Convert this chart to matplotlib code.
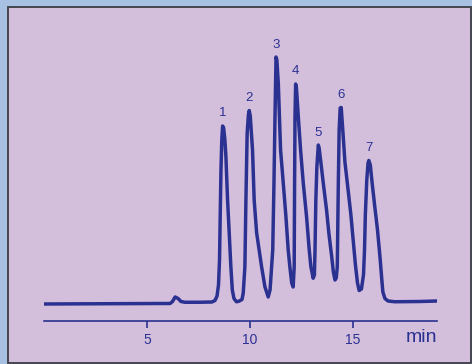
import matplotlib
matplotlib.use("Agg")
import matplotlib.pyplot as plt
from matplotlib.patches import Rectangle

# chromatogram trace (time in min, signal in arbitrary units)
time_min = [0.00, 2.72, 5.63, 6.12, 6.24, 6.37, 6.51, 6.65, 6.84, 7.57, 8.15, 8.30,
            8.40, 8.47, 8.52, 8.55, 8.59, 8.63, 8.67, 8.72, 8.78, 8.83, 8.91, 8.99,
            9.07, 9.14, 9.22, 9.34, 9.46, 9.61, 9.67, 9.75, 9.80, 9.86, 9.92, 9.96,
            10.01, 10.12, 10.20, 10.32, 10.56, 10.72, 10.88, 10.97, 11.10, 11.16, 11.21, 11.26,
            11.30, 11.37, 11.48, 11.61, 11.74, 11.85, 11.93, 12.02, 12.09, 12.14, 12.16, 12.18,
            12.21, 12.25, 12.34, 12.45, 12.58, 12.74, 12.87, 12.95, 13.06, 13.12, 13.15, 13.19,
            13.24, 13.31, 13.35, 13.42, 13.55, 13.71, 13.82, 13.96, 14.04, 14.12, 14.18, 14.23,
            14.28, 14.32, 14.37, 14.42, 14.48, 14.60, 14.76, 14.89, 15.00, 15.11, 15.21, 15.29,
            15.40, 15.50, 15.55, 15.59, 15.66, 15.72, 15.76, 15.83, 15.93, 16.05, 16.18, 16.30,
            16.39, 16.44, 16.54, 16.69, 17.02, 18.24, 19.05]
signal = [0.0, 0.1, 0.2, 0.2, 1.0, 2.8, 2.2, 1.0, 0.7, 0.7, 0.8, 1.4,
          3.2, 7.6, 17.6, 33.6, 53.6, 65.6, 71.2, 70.4, 65.6, 59.0, 41.6, 28.4,
          14.9, 5.6, 2.2, 0.9, 1.1, 1.8, 4.4, 14.9, 41.6, 68.4, 75.6, 77.4,
          75.2, 61.6, 41.6, 28.4, 14.9, 6.9, 2.8, 5.6, 21.6, 48.4, 74.9, 98.8,
          97.6, 88.3, 61.6, 48.4, 34.9, 21.6, 14.9, 8.4, 6.8, 14.9, 48.4, 74.9,
          88.0, 86.4, 74.9, 61.6, 48.4, 34.9, 21.6, 14.9, 10.3, 11.6, 21.6, 41.6,
          54.9, 63.6, 62.4, 57.6, 48.4, 37.6, 28.4, 18.9, 12.8, 9.6, 10.4, 14.9,
          48.4, 69.6, 78.4, 78.6, 71.6, 56.8, 45.2, 35.6, 25.6, 15.6, 8.4, 5.4,
          6.0, 11.6, 21.6, 35.6, 49.6, 56.4, 57.4, 55.6, 47.6, 38.8, 29.6, 18.8,
          9.6, 4.8, 2.2, 1.2, 0.9, 1.0, 1.2]

# numbered peaks: apex time and height
peak_labels = ["1", "2", "3", "4", "5", "6", "7"]
peak_time = [8.67, 9.96, 11.26, 12.21, 13.31, 14.42, 15.76]
peak_height = [71.2, 77.4, 98.8, 88.0, 63.6, 78.6, 57.4]

x_ticks = [5, 10, 15]

blue = "#2b3191"
plt.rcParams["font.family"] = ["Liberation Sans", "DejaVu Sans"]

fig = plt.figure(figsize=(4.72, 3.64), dpi=100)
fig.patch.set_facecolor("#a8c1e3")
fig.patches.append(Rectangle((8 / 472, 1 / 364), 462.5 / 472, 356 / 364,
                             transform=fig.transFigure, facecolor="#d3bfdc",
                             edgecolor="#3c3c44", linewidth=1.3, zorder=-10))

ax = fig.add_axes([43.8 / 472, 43 / 364, 392.9 / 472, 271 / 364])
ax.set_zorder(5)
ax.patch.set_alpha(0)
ax.plot(time_min, signal, color=blue, lw=2.5, solid_joinstyle="round", solid_capstyle="round")

for lab, t, h in zip(peak_labels, peak_time, peak_height):
    ax.annotate(lab, (t, h), xytext=(0, 9), textcoords="offset points",
                ha="center", va="center", fontsize=9.5, color=blue)

ax.set_xlim(0, 19.05)
ax.set_ylim(-6.8, 101.6)
for side in ["top", "left", "right"]:
    ax.spines[side].set_visible(False)
ax.spines["bottom"].set_color(blue)
ax.spines["bottom"].set_linewidth(1.2)
ax.set_yticks([])
ax.set_xticks(x_ticks)
ax.tick_params(axis="x", direction="out", length=5, width=1.2, color=blue,
               labelcolor=blue, labelsize=10, pad=3.5)

fig.text(437 / 472, (364 - 338) / 364, "min", ha="right", va="center",
         fontsize=14, color=blue)

fig.savefig("out.png", dpi=100, facecolor=fig.get_facecolor())
